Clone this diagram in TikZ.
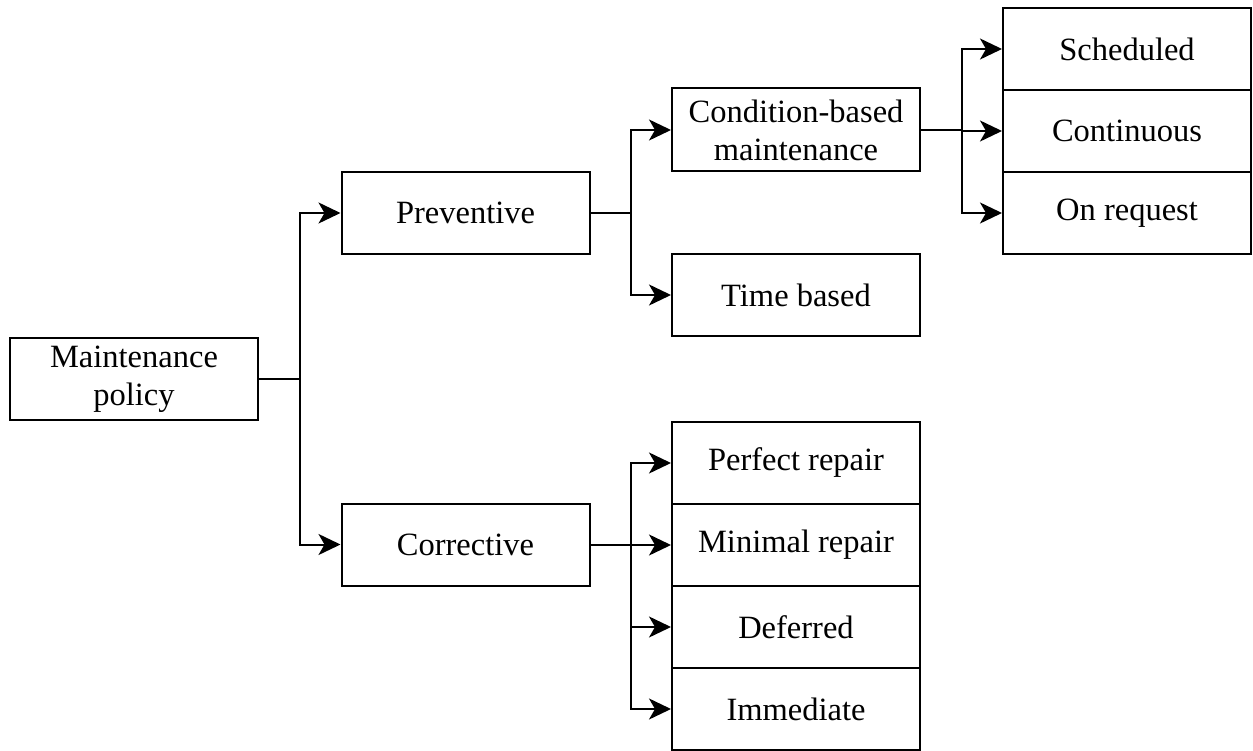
\documentclass[tikz,border=0pt]{standalone}
\usepackage{fontspec}
\setmainfont{Liberation Serif}
\usetikzlibrary{arrows.meta}
\begin{document}
\begin{tikzpicture}[x=1pt,y=-1pt,
  box/.style={draw,line width=2pt,minimum width=248pt,inner sep=0pt,align=center,
    font=\fontsize{32.5}{38}\selectfont},
  conn/.style={line width=2pt},
  arr/.style={line width=2pt,-{Stealth[length=22pt,width=21pt,inset=6pt]}}]
\useasboundingbox (0,0) rectangle (1253,751);
\node[box,minimum height=82pt] (mp) at (134,379) {Maintenance\\policy};
\node[box,minimum height=82pt] (prev) at (465.5,213) {Preventive};
\node[box,minimum height=82pt] (corr) at (465.5,544.5) {Corrective};
\node[box,minimum height=83pt] (cbm) at (796,130) {Condition-based\\maintenance};
\node[box,minimum height=82pt] (tb) at (796,295) {Time based};
\node[box,minimum height=82pt] (sch) at (1127,49) {Scheduled};
\node[box,minimum height=82pt] (cont) at (1127,131) {Continuous};
\node[box,minimum height=82pt] (onr) at (1127,213) {On request};
\node[box,minimum height=82pt] (pr) at (796,463) {Perfect repair};
\node[box,minimum height=82pt] (mr) at (796,545) {Minimal repair};
\node[box,minimum height=82pt] (def) at (796,627) {Deferred};
\node[box,minimum height=82pt] (imm) at (796,709) {Immediate};
% level 1
\coordinate (j1) at (300,379);
\draw[conn] (mp.east) -- (j1);
\draw[arr] (j1) |- (prev.west);
\draw[arr] (j1) |- (corr.west);
% preventive
\coordinate (j2) at (631,213);
\draw[conn] (prev.east) -- (j2);
\draw[arr] (j2) |- (cbm.west);
\draw[arr] (j2) |- (tb.west);
% condition based
\coordinate (j3) at (962,130);
\draw[conn] (cbm.east) -- (j3);
\draw[arr] (j3) |- (sch.west);
\draw[arr] (j3) |- (cont.west);
\draw[arr] (j3) |- (onr.west);
% corrective
\coordinate (j4) at (631,544.5);
\draw[conn] (corr.east) -- (j4);
\draw[arr] (j4) |- (pr.west);
\draw[arr] (j4) |- (mr.west);
\draw[arr] (j4) |- (def.west);
\draw[arr] (j4) |- (imm.west);
\end{tikzpicture}
\end{document}
